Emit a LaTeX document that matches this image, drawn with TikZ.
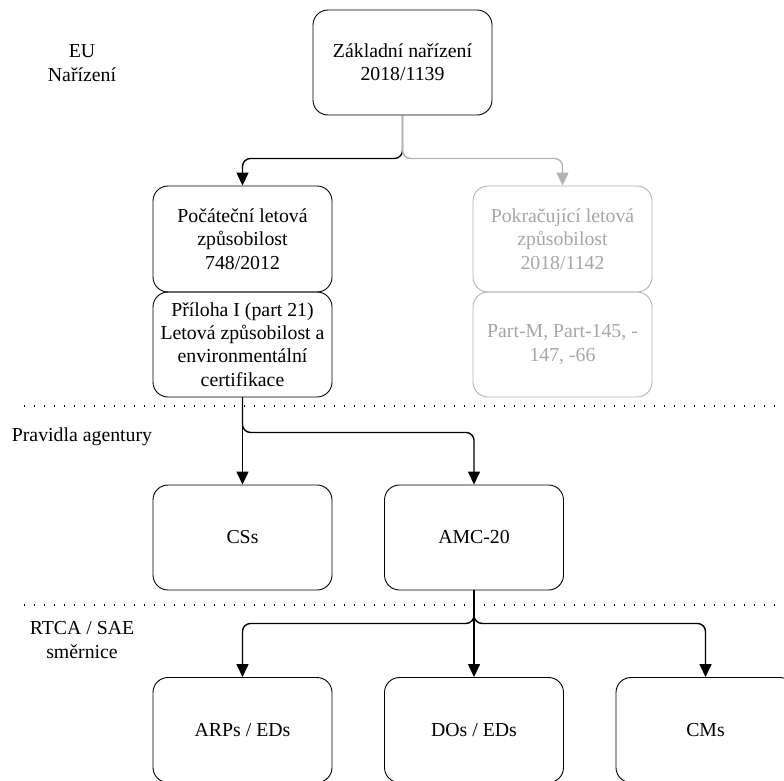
\documentclass[tikz,border=0pt]{standalone}
\usepackage{fontspec}
\setmainfont{Liberation Serif}
\usetikzlibrary{arrows.meta}
\definecolor{lightln}{HTML}{B3B3B3}
\definecolor{lighttx}{HTML}{A6A6A6}
\newcommand{\boxfont}{\fontsize{19.8}{23.3}\selectfont}
\begin{document}
\begin{tikzpicture}[x=1pt,y=-1pt,
  box/.style={draw, line width=0.9pt, rounded corners=15pt, minimum width=179pt, minimum height=105pt, align=center, font=\boxfont, inner sep=0pt},
  graybox/.style={box, draw=lightln, text=lighttx},
  lbl/.style={align=center, font=\boxfont, inner sep=0pt},
  conn/.style={line width=1.4pt, rounded corners=8pt, -{Triangle[length=13pt,width=12pt]}},
  grayconn/.style={conn, draw=lightln, -{Triangle[length=13pt,width=12pt,fill=lightln]}},
  sep/.style={line width=1.1pt, dash pattern=on 1pt off 9pt}
]
\useasboundingbox (0,0) rectangle (784,780);

% boxes
\node[box] (top) at (402.5,62.5) {Základní nařízení\\2018/1139};
\node[box, minimum height=106pt] (p1) at (242.5,239) {Počáteční letová\\způsobilost\\748/2012};
\node[box] (p2) at (242.5,344.5) {Příloha I (part 21)\\Letová způsobilost a\\environmentální\\certifikace};
\node[graybox, minimum height=106pt] (g1) at (562.5,239) {Pokračující letová\\způsobilost\\2018/1142};
\node[graybox] (g2) at (562.5,344.5) {Part-M, Part-145, -\\147, -66};
\node[box] (css) at (242.5,537.5) {CSs};
\node[box] (amc) at (474,537.5) {AMC-20};
\node[box] (arps) at (242.5,730) {ARPs / EDs};
\node[box] (dos) at (474,730) {DOs / EDs};
\node[box] (cms) at (705.5,730) {CMs};

% side labels
\node[lbl] (lbeu) at (82,63) {EU\\Nařízení};
\node[lbl] (lbpr) at (82,437) {Pravidla agentury};
\node[lbl] (lbrt) at (82,640) {RTCA / SAE\\směrnice};

% separators
\coordinate (s1a) at (24,406);
\coordinate (s1b) at (784,406);
\coordinate (s2a) at (24,605);
\coordinate (s2b) at (784,605);
\draw[sep] (s1a) -- (s1b);
\draw[sep] (s2a) -- (s2b);

% connectors
\draw[conn] (top.south) -- ++(0,43) -| (p1.north);
\draw[grayconn] (top.south) -- ++(0,43) -| (g1.north);

\draw[conn] (p2.south) -- (css.north);
\draw[conn] (p2.south) -- ++(0,35) -| (amc.north);

\draw[conn] (amc.south) -- (dos.north);
\draw[conn] (amc.south) -- ++(0,33) -| (arps.north);
\draw[conn] (amc.south) -- ++(0,33) -| (cms.north);
\end{tikzpicture}
\end{document}
